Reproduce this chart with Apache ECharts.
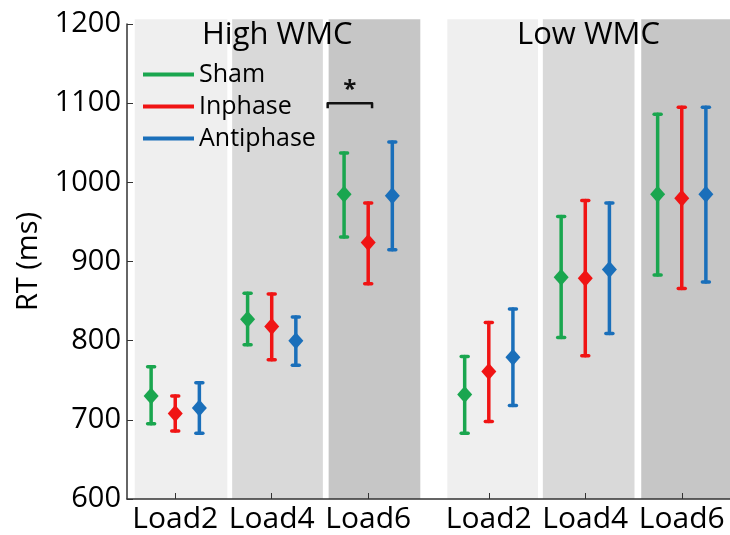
<!DOCTYPE html>
<html>
<head>
<meta charset="utf-8">
<script src="https://cdn.jsdelivr.net/npm/echarts@6/dist/echarts.min.js"></script>
<style>html,body{margin:0;padding:0;background:#fff;}#c{width:730px;height:535px;}</style>
</head>
<body>
<div id="c"></div>
<script>
// ---- data ----
var tickLabels = ['Load2', 'Load4', 'Load6', 'Load2', 'Load4', 'Load6'];
var tickPos = [1, 2, 3, 4.25, 5.25, 6.25];
var yTicks = [600, 700, 800, 900, 1000, 1100, 1200];
var groupTitles = ['High WMC', 'Low WMC'];
var seriesNames = ['Sham', 'Inphase', 'Antiphase'];
var offsets = [-0.25, 0, 0.25];
// mean, lower, upper for each condition (ms)
var shamMean  = [730, 827, 985, 732, 880, 985];
var shamLow   = [695, 795, 931, 683, 804, 883];
var shamHigh  = [767, 860, 1037, 780, 957, 1086];
var inMean    = [708, 818, 924, 761, 879, 980];
var inLow     = [686, 776, 872, 698, 781, 866];
var inHigh    = [730, 859, 974, 823, 977, 1095];
var antiMean  = [715, 800, 983, 779, 890, 985];
var antiLow   = [683, 769, 915, 718, 809, 874];
var antiHigh  = [747, 830, 1051, 840, 974, 1095];
// background panels [x0, x1, shade]
var panelX0 = [0.58, 1.59, 2.59, 3.82, 4.81, 5.83];
var panelX1 = [1.54, 2.53, 3.54, 4.76, 5.76, 6.75];
var panelShade = ['#efefef', '#d9d9d9', '#c6c6c6', '#efefef', '#d9d9d9', '#c6c6c6'];
// significance bracket between Sham and Inphase at High WMC Load6
var sigX = [2.58, 3.04];
var sigY = 1100;
var colors = ['#1aa64f', '#f01414', '#1a6fba'];

var means = [shamMean, inMean, antiMean];
var lows = [shamLow, inLow, antiLow];
var highs = [shamHigh, inHigh, antiHigh];

var chart = echarts.init(document.getElementById('c'), null, {renderer: 'canvas'});
var FONT = 'Open Sans';

var series = [];
// panels
series.push({
  type: 'custom',
  silent: true,
  z: 0,
  clip: false,
  data: panelX0.map(function (x, i) { return [x, panelX1[i], i]; }),
  renderItem: function (params, api) {
    var x0 = api.value(0), x1 = api.value(1), i = api.value(2);
    var p0 = api.coord([x0, 1206]);
    var p1 = api.coord([x1, 600]);
    return {type: 'rect', shape: {x: p0[0], y: p0[1], width: p1[0] - p0[0], height: p1[1] - p0[1]},
      style: {fill: panelShade[i]}};
  }
});
// error bars
seriesNames.forEach(function (name, s) {
  series.push({
    type: 'custom',
    name: name,
    z: 5,
    clip: false,
    itemStyle: {color: colors[s]},
    data: tickPos.map(function (x, i) { return [x + offsets[s], lows[s][i], highs[s][i]]; }),
    renderItem: function (params, api) {
      var x = api.value(0);
      var lo = api.coord([x, api.value(1)]);
      var hi = api.coord([x, api.value(2)]);
      var st = {stroke: colors[s], lineWidth: 3.5, lineCap: 'round', fill: null};
      return {type: 'group', children: [
        {type: 'line', shape: {x1: lo[0], y1: lo[1], x2: hi[0], y2: hi[1]}, style: st},
        {type: 'line', shape: {x1: lo[0] - 3.5, y1: lo[1], x2: lo[0] + 3.5, y2: lo[1]}, style: st},
        {type: 'line', shape: {x1: hi[0] - 3.5, y1: hi[1], x2: hi[0] + 3.5, y2: hi[1]}, style: st}
      ]};
    }
  });
  series.push({
    type: 'scatter',
    name: name,
    z: 6,
    symbol: 'diamond',
    symbolSize: [15, 17],
    itemStyle: {color: colors[s], opacity: 1},
    data: tickPos.map(function (x, i) { return [x + offsets[s], means[s][i]]; })
  });
});
// significance bracket
series.push({
  type: 'custom',
  silent: true,
  z: 7,
  clip: false,
  data: [[sigX[0], sigX[1], sigY]],
  renderItem: function (params, api) {
    var a = api.coord([api.value(0), api.value(2)]);
    var b = api.coord([api.value(1), api.value(2)]);
    var st = {stroke: '#111', lineWidth: 2.5, fill: null, lineJoin: 'round'};
    return {type: 'group', children: [
      {type: 'polyline', shape: {points: [[a[0], a[1] + 5], [a[0], a[1]], [b[0], b[1]], [b[0], b[1] + 5]]}, style: st},
      {type: 'text', style: {x: (a[0] + b[0]) / 2, y: a[1] - 1, text: '*', fill: '#111',
        font: 'bold 24px "' + FONT + '"', textAlign: 'center', textVerticalAlign: 'bottom'}}
    ]};
  }
});

var option = {
  animation: false,
  backgroundColor: '#ffffff',
  textStyle: {fontFamily: FONT},
  title: [
    {text: groupTitles[0], left: 197, top: 15, textStyle: {fontFamily: FONT, fontSize: 31, fontWeight: 'normal', color: '#000'}},
    {text: groupTitles[1], left: 512, top: 15, textStyle: {fontFamily: FONT, fontSize: 31, fontWeight: 'normal', color: '#000'}}
  ],
  legend: {
    orient: 'vertical',
    left: 138,
    top: 57,
    itemWidth: 51,
    itemHeight: 4,
    itemGap: 7,
    selectedMode: false,
    data: seriesNames.map(function (n, i) {
      return {name: n, icon: 'rect', itemStyle: {color: colors[i]}};
    }),
    textStyle: {fontFamily: FONT, fontSize: 25, color: '#000', lineHeight: 25, padding: [0, 0, 0, 0]}
  },
  grid: {left: 127, right: 0, top: 24, bottom: 36, containLabel: false},
  xAxis: {
    type: 'value',
    min: 0.5,
    max: 6.75,
    splitLine: {show: false},
    axisLine: {lineStyle: {color: '#333', width: 1.5}},
    axisTick: {inside: true, length: 6, customValues: tickPos, lineStyle: {color: '#333'}},
    axisLabel: {
      customValues: tickPos,
      fontFamily: FONT, fontSize: 30, color: '#000', margin: 5,
      formatter: function (v) {
        var i = tickPos.indexOf(v);
        return i >= 0 ? tickLabels[i] : '';
      }
    }
  },
  yAxis: {
    type: 'value',
    min: yTicks[0],
    max: yTicks[yTicks.length - 1],
    interval: 100,
    name: 'RT (ms)',
    nameLocation: 'middle',
    nameRotate: 90,
    nameGap: 84,
    nameTextStyle: {fontFamily: FONT, fontSize: 29, color: '#000'},
    splitLine: {show: false},
    axisLine: {show: true, lineStyle: {color: '#333', width: 1.5}},
    axisTick: {show: true, inside: true, length: 6, lineStyle: {color: '#333'}},
    axisLabel: {fontFamily: FONT, fontSize: 29, color: '#000', margin: 6,
      formatter: function (v) { return String(v); }}
  },
  series: series
};
chart.setOption(option);
</script>
</body>
</html>
